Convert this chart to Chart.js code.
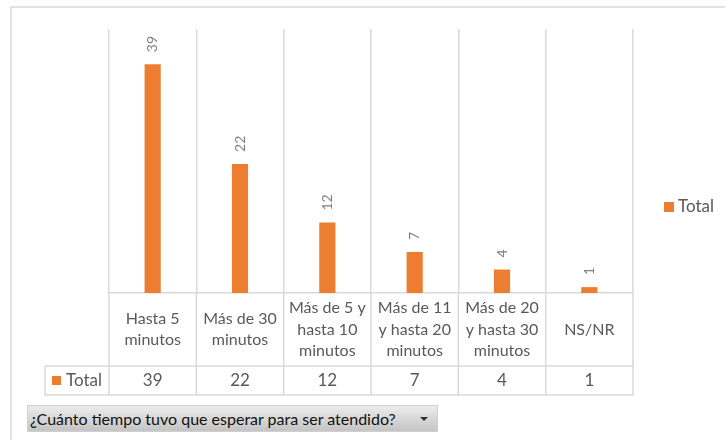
<!DOCTYPE html>
<html>
<head>
<meta charset="utf-8">
<script src="https://cdn.jsdelivr.net/npm/chart.js@4"></script>
<style>
  body { margin: 0; background: #fff; }
  #wrap { position: relative; width: 725px; height: 440px; }
  #filter {
    position: absolute; left: 27px; top: 405px; width: 411px; height: 27px;
    box-sizing: border-box; padding-left: 2px;
    background: linear-gradient(#ececec, #c4c4c4);
    border: 1px solid #d0d0d0;
    font-family: Lato, sans-serif; font-size: 16px; line-height: 25px; color: #111;
  }
  #filter span {
    position: absolute; right: 9px; top: 11px;
    border-left: 4px solid transparent; border-right: 4px solid transparent; border-top: 4px solid #333;
  }
</style>
</head>
<body>
<div id="wrap">
  <canvas id="chart"></canvas>
  <div id="filter">¿Cuánto tiempo tuvo que esperar para ser atendido?<span></span></div>
</div>
<script>
const categories = [
    ['Hasta 5', 'minutos'],
    ['Más de 30', 'minutos'],
    ['Más de 5 y', 'hasta 10', 'minutos'],
    ['Más de 11', 'y hasta 20', 'minutos'],
    ['Más de 20', 'y hasta 30', 'minutos'],
    ['NS/NR'],
];
const totals = [39, 22, 12, 7, 4, 1];
const seriesName = 'Total';

const orange = '#ED7D31';
const lineGray = '#d9d9d9';
const textGray = '#595959';
const font = 'Lato, sans-serif';

// labels rotated above bars
const barLabels = {
    id: 'barLabels',
    afterDatasetsDraw(chart) {
        const ctx = chart.ctx;
        const meta = chart.getDatasetMeta(0);
        ctx.save();
        ctx.fillStyle = '#7f7f7f';
        ctx.font = '14px ' + font;
        ctx.textAlign = 'left';
        ctx.textBaseline = 'middle';
        meta.data.forEach((bar, i) => {
            ctx.save();
            ctx.translate(bar.x, bar.y - 12);
            ctx.rotate(-Math.PI / 2);
            ctx.fillText(String(totals[i]), 0, 0);
            ctx.restore();
        });
        ctx.restore();
    },
};

// data table under the plot, outer frame and legend
const dataTable = {
    id: 'dataTable',
    afterDraw(chart) {
        const ctx = chart.ctx;
        const area = chart.chartArea;
        const n = categories.length;
        const w = (area.right - area.left) / n;
        const top = area.bottom;
        const mid = top + 73;
        const bottom = mid + 29;
        const keyLeft = 45;

        ctx.save();
        ctx.strokeStyle = lineGray;
        ctx.lineWidth = 1.5;
        ctx.beginPath();
        // outer frame
        ctx.moveTo(11, 440); ctx.lineTo(11, 7); ctx.lineTo(725, 7);
        // table rows
        ctx.moveTo(keyLeft, mid); ctx.lineTo(area.right, mid);
        ctx.moveTo(keyLeft, bottom); ctx.lineTo(area.right, bottom);
        ctx.moveTo(keyLeft, mid); ctx.lineTo(keyLeft, bottom);
        for (let i = 0; i <= n; i++) {
            const x = area.left + i * w;
            ctx.moveTo(x, top); ctx.lineTo(x, bottom);
        }
        ctx.stroke();

        ctx.fillStyle = textGray;
        ctx.textAlign = 'center';
        ctx.textBaseline = 'middle';
        categories.forEach((lines, i) => {
            const cx = area.left + (i + 0.5) * w;
            const lh = 21.5;
            const y0 = top + 36.5 - (lines.length - 1) * lh / 2;
            ctx.font = '16px ' + font;
            lines.forEach((t, j) => ctx.fillText(t, cx, y0 + j * lh));
            ctx.font = '17px ' + font;
            ctx.fillText(String(totals[i]), cx, mid + 15);
        });

        // row key
        ctx.fillStyle = orange;
        ctx.fillRect(52, mid + 10, 9, 9);
        ctx.fillStyle = textGray;
        ctx.font = '17px ' + font;
        ctx.textAlign = 'left';
        ctx.fillText(seriesName, 66, mid + 15);

        // legend
        ctx.fillStyle = orange;
        ctx.fillRect(664, 202, 10, 10);
        ctx.fillStyle = textGray;
        ctx.fillText(seriesName, 678, 207);
        ctx.restore();
    },
};

new Chart(document.getElementById('chart'), {
    type: 'bar',
    data: {
        labels: categories,
        datasets: [{
            label: seriesName,
            data: totals,
            backgroundColor: orange,
            barPercentage: 0.37,
            categoryPercentage: 0.5,
        }],
    },
    options: {
        responsive: true,
        maintainAspectRatio: false,
        animation: false,
        layout: { padding: { left: 109, right: 92, top: 29, bottom: 147 } },
        scales: {
            x: {
                ticks: { display: false },
                grid: { color: lineGray, lineWidth: 1.5, drawTicks: false, offset: true },
                border: { color: lineGray, width: 1.5 },
            },
            y: {
                display: false,
                min: 0,
                max: 45,
            },
        },
        plugins: {
            legend: { display: false },
            tooltip: { enabled: false },
        },
    },
    plugins: [barLabels, dataTable],
});
</script>
</body>
</html>
